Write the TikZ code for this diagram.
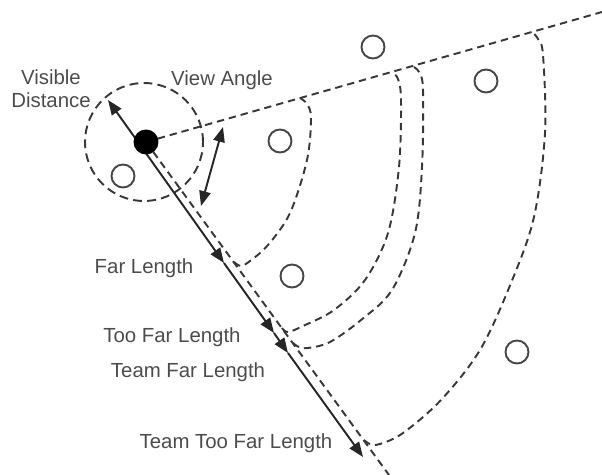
\documentclass[tikz,border=0pt]{standalone}
\usepackage{fontspec}
\setmainfont{Liberation Sans}
\usetikzlibrary{arrows.meta}

\begin{document}
\begin{tikzpicture}[x=0.02cm,y=-0.02cm,
		lbl/.style={text=black!70,font=\fontsize{11.6}{13.2}\selectfont,inner sep=0pt},
		bound/.style={draw=black!78,line width=1.1pt,dash pattern=on 4.2pt off 2.8pt},
		obj/.style={circle,draw=black!72,line width=1.1pt,minimum size=0.46cm,inner sep=0pt},
		dot/.style={circle,fill=black,minimum size=0.5cm,inner sep=0pt},
		arr/.style={draw=black!85,line width=1.1pt,-{Triangle[length=8.5pt,width=6.5pt]}}]
	\useasboundingbox (0,0) rectangle (602,475);
	% agent, view angle and visible distance
	\coordinate (c) at (146,142);
	\coordinate (upend) at (602,12);
	\coordinate (lowend) at (389,475);
	\draw[bound,dash pattern=on 5pt off 3pt] (144,142) circle[radius=1.18cm];
	\draw[bound] (c) -- (upend);
	\draw[bound] (c) -- (lowend);
	% range contours
	\draw[bound] plot[smooth,tension=0.55] coordinates {(234,262) (241,266) (250,261) (268,245) (290,213) (307,160) (311,118) (307,104) (300,98)};
	\draw[bound] plot[smooth,tension=0.55] coordinates {(282,328) (288,332) (303,326) (334,310) (365,280) (388,233) (399,167) (401,100) (398,79) (392,72)};
	\draw[bound] plot[smooth,tension=0.55] coordinates {(293,343) (299,347) (308,348) (330,342) (361,320) (392,290) (415,233) (422,167) (423,90) (419,72) (412,66)};
	\draw[bound] plot[smooth,tension=0.55] coordinates {(364,440) (370,444) (380,444) (403,433) (441,400) (480,350) (511,283) (534,217) (545,133) (543,55) (538,39) (532,32)};
	% objects
	\node[obj] (o1) at (123,176) {};
	\node[obj] (o2) at (280,141) {};
	\node[obj] (o3) at (373,47) {};
	\node[obj] (o4) at (486,81) {};
	\node[obj] (o5) at (292,276) {};
	\node[obj] (o6) at (517,352) {};
	% distances along the line of sight
	\coordinate (eye) at (138,142);
	\coordinate (vis) at (108,100);
	\coordinate (far) at (224,263);
	\coordinate (toofar) at (274,333);
	\coordinate (teamfar) at (288,353);
	\coordinate (teamtoofar) at (363,457);
	\draw[arr] (eye) -- (vis);
	\draw[arr] (eye) -- (far);
	\draw[arr] (far) -- (toofar);
	\draw[arr] (toofar) -- (teamfar);
	\draw[arr] (teamfar) -- (teamtoofar);
	\node[dot] (agent) at (c) {};
	\coordinate (va1) at (223,127);
	\coordinate (va2) at (201,206);
	\draw[arr,{Triangle[length=8.5pt,width=6.5pt]}-{Triangle[length=8.5pt,width=6.5pt]}] (va1) -- (va2);
	% labels
	\node[lbl,align=center] (visl) at (51,89) {Visible\\Distance};
	\node[lbl] (val) at (222,80) {View Angle};
	\node[lbl] (farl) at (144,268) {Far Length};
	\node[lbl] (toofarl) at (172,337) {Too Far Length};
	\node[lbl] (teamfarl) at (188,372) {Team Far Length};
	\node[lbl] (teamtoofarl) at (236,443) {Team Too Far Length};
\end{tikzpicture}
\end{document}
